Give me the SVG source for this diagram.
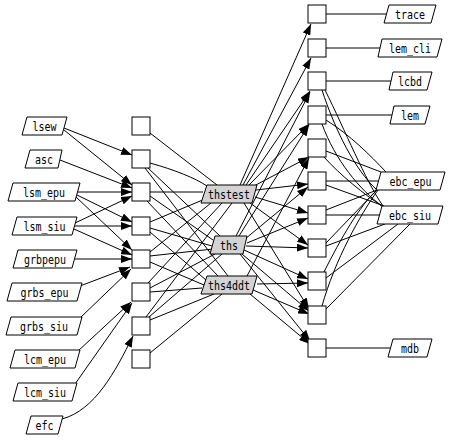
<svg xmlns="http://www.w3.org/2000/svg" width="450" height="440" viewBox="0 0 450 440">
<style>
rect{fill:#fff;stroke:#000;stroke-width:1}
polygon{fill:#fff;stroke:#000;stroke-width:1}
polygon.m{fill:#d3d3d3}
text{font-family:"DejaVu Sans Mono","Liberation Mono",monospace;font-size:12px;text-anchor:middle;fill:#000}
#edges path{fill:none;stroke:#000;stroke-width:1}
#edges path.a{marker-end:url(#ah)}
</style>
<defs>
<marker id="ah" markerWidth="11" markerHeight="8" refX="11" refY="4" orient="auto" markerUnits="userSpaceOnUse"><path d="M0,0 L11,4 L0,8 z" fill="#000"/></marker>
</defs>
<g id="edges">
<path class="a" d="M64,128 L132,155"/>
<path class="a" d="M64,130 L132,185"/>
<path class="a" d="M60,160 L132,188"/>
<path class="a" d="M78,192 L132,192"/>
<path class="a" d="M77,195 L132,222"/>
<path class="a" d="M76,197 L132,250"/>
<path class="a" d="M75,223 L132,196"/>
<path class="a" d="M75,226 L132,226"/>
<path class="a" d="M74,229 L132,255"/>
<path class="a" d="M75,259 L132,259"/>
<path class="a" d="M80,286 L130,267"/>
<path class="a" d="M80,318 L131,269"/>
<path class="a" d="M78,351 L131,302"/>
<path class="a" d="M75,384 L132,303"/>
<path class="a" d="M62,419 C95,410 115,372 133,336"/>
<path d="M150,133 L217,185"/>
<path d="M150,163 C175,170 195,178 207,186"/>
<path d="M148,168 L220,236"/>
<path d="M145,168 L228,276"/>
<path d="M150,192 L203,192"/>
<path d="M150,196 L213,240"/>
<path d="M147,201 L218,276"/>
<path d="M150,222 L205,199"/>
<path d="M150,228 L212,246"/>
<path d="M150,232 L206,280"/>
<path d="M150,252 L211,203"/>
<path d="M150,256 L213,249"/>
<path d="M150,262 L204,285"/>
<path d="M148,283 L222,203"/>
<path d="M150,288 L215,254"/>
<path d="M150,292 L202,288"/>
<path d="M146,317 L232,203"/>
<path d="M149,317 L222,254"/>
<path d="M150,320 L214,294"/>
<path d="M150,353 L222,294"/>
<path class="a" d="M240,185 L311,24"/>
<path class="a" d="M243,185 L311,58"/>
<path class="a" d="M246,185 L310,91"/>
<path class="a" d="M249,185 L309,124"/>
<path class="a" d="M252,187 L309,157"/>
<path class="a" d="M256,190 L308,184"/>
<path class="a" d="M255,197 L308,213"/>
<path class="a" d="M250,203 L308,245"/>
<path class="a" d="M244,203 L309,309"/>
<path class="a" d="M236,236 L310,92"/>
<path class="a" d="M239,236 L309,125"/>
<path class="a" d="M245,239 L308,187"/>
<path class="a" d="M247,243 L308,218"/>
<path class="a" d="M246,246 L308,248"/>
<path class="a" d="M244,250 L308,279"/>
<path class="a" d="M242,254 L309,311"/>
<path class="a" d="M240,254 L310,341"/>
<path class="a" d="M247,276 L309,158"/>
<path class="a" d="M257,284 L308,283"/>
<path class="a" d="M253,290 L309,314"/>
<path class="a" d="M250,294 L310,344"/>
<path d="M326,14 L387,14"/>
<path d="M326,48 L380,48"/>
<path d="M326,81 L391,81"/>
<path d="M326,115 L392,115"/>
<path d="M326,181 L379,181"/>
<path d="M326,215 L380,215"/>
<path d="M326,348 L390,348"/>
<path d="M322,90 C335,130 355,170 377,190"/>
<path d="M325,90 C345,130 365,180 383,206"/>
<path d="M326,120 C350,135 370,155 386,172"/>
<path d="M322,124 C335,160 360,190 382,206"/>
<path d="M326,151 L381,172"/>
<path d="M324,157 C340,175 365,195 382,206"/>
<path d="M326,185 L384,206"/>
<path d="M326,210 L377,190"/>
<path d="M326,243 L376,191"/>
<path d="M326,246 L385,224"/>
<path d="M324,272 C340,240 360,205 377,190"/>
<path d="M326,278 L398,224"/>
<path d="M322,306 C335,260 360,215 378,190"/>
<path d="M326,309 L410,224"/>
</g>
<g id="lsew"><polygon points="27,117 67,117 62,135 22,135"/><text x="44.5" y="131" textLength="24" lengthAdjust="spacingAndGlyphs">lsew</text></g>
<g id="asc"><polygon points="30,150 62,150 58,168 25,168"/><text x="44" y="164" textLength="18" lengthAdjust="spacingAndGlyphs">asc</text></g>
<g id="lsm_epu"><polygon points="13,183 80,183 75,201 8,201"/><text x="44" y="197" textLength="42" lengthAdjust="spacingAndGlyphs">lsm_epu</text></g>
<g id="lsm_siu"><polygon points="17,217 77,217 72,235 12,235"/><text x="44.5" y="231" textLength="42" lengthAdjust="spacingAndGlyphs">lsm_siu</text></g>
<g id="grbpepu"><polygon points="18,250 77,250 72,268 13,268"/><text x="45" y="264" textLength="42" lengthAdjust="spacingAndGlyphs">grbpepu</text></g>
<g id="grbs_epu"><polygon points="12,283 82,283 77,301 7,301"/><text x="44.5" y="297" textLength="48" lengthAdjust="spacingAndGlyphs">grbs_epu</text></g>
<g id="grbs_siu"><polygon points="11,317 82,317 77,335 6,335"/><text x="44" y="331" textLength="48" lengthAdjust="spacingAndGlyphs">grbs_siu</text></g>
<g id="lcm_epu"><polygon points="15,350 80,350 75,368 10,368"/><text x="45" y="364" textLength="42" lengthAdjust="spacingAndGlyphs">lcm_epu</text></g>
<g id="lcm_siu"><polygon points="18,383 77,383 72,401 13,401"/><text x="45" y="397" textLength="42" lengthAdjust="spacingAndGlyphs">lcm_siu</text></g>
<g id="efc"><polygon points="31,416 63,416 58,434 26,434"/><text x="44.5" y="430" textLength="18" lengthAdjust="spacingAndGlyphs">efc</text></g>
<g id="lb0"><rect x="132" y="117" width="18" height="18"/></g>
<g id="lb1"><rect x="132" y="150" width="18" height="18"/></g>
<g id="lb2"><rect x="132" y="183" width="18" height="18"/></g>
<g id="lb3"><rect x="132" y="217" width="18" height="18"/></g>
<g id="lb4"><rect x="132" y="250" width="18" height="18"/></g>
<g id="lb5"><rect x="132" y="283" width="18" height="18"/></g>
<g id="lb6"><rect x="132" y="317" width="18" height="18"/></g>
<g id="lb7"><rect x="132" y="350" width="18" height="18"/></g>
<g id="thstest"><polygon class="m" points="207,185 257,185 252,203 201,203"/><text x="229" y="199" textLength="42" lengthAdjust="spacingAndGlyphs">thstest</text></g>
<g id="ths"><polygon class="m" points="215,236 247,236 243,254 210,254"/><text x="229" y="250" textLength="18" lengthAdjust="spacingAndGlyphs">ths</text></g>
<g id="ths4ddt"><polygon class="m" points="207,276 257,276 252,294 201,294"/><text x="229" y="290" textLength="42" lengthAdjust="spacingAndGlyphs">ths4ddt</text></g>
<g id="rb0"><rect x="308" y="5" width="18" height="18"/></g>
<g id="rb1"><rect x="308" y="39" width="18" height="18"/></g>
<g id="rb2"><rect x="308" y="72" width="18" height="18"/></g>
<g id="rb3"><rect x="308" y="106" width="18" height="18"/></g>
<g id="rb4"><rect x="308" y="139" width="18" height="18"/></g>
<g id="rb5"><rect x="308" y="172" width="18" height="18"/></g>
<g id="rb6"><rect x="308" y="206" width="18" height="18"/></g>
<g id="rb7"><rect x="308" y="239" width="18" height="18"/></g>
<g id="rb8"><rect x="308" y="272" width="18" height="18"/></g>
<g id="rb9"><rect x="308" y="306" width="18" height="18"/></g>
<g id="rb10"><rect x="308" y="339" width="18" height="18"/></g>
<g id="trace"><polygon points="389,5 436,5 431,23 384,23"/><text x="410" y="19" textLength="30" lengthAdjust="spacingAndGlyphs">trace</text></g>
<g id="lem_cli"><polygon points="382,39 442,39 437,57 378,57"/><text x="410" y="53" textLength="42" lengthAdjust="spacingAndGlyphs">lem_cli</text></g>
<g id="lcbd"><polygon points="393,72 432,72 427,90 389,90"/><text x="410" y="86" textLength="24" lengthAdjust="spacingAndGlyphs">lcbd</text></g>
<g id="lem"><polygon points="394,106 430,106 425,124 390,124"/><text x="410" y="120" textLength="18" lengthAdjust="spacingAndGlyphs">lem</text></g>
<g id="ebc_epu"><polygon points="381,172 445,172 440,190 376,190"/><text x="410.5" y="186" textLength="42" lengthAdjust="spacingAndGlyphs">ebc_epu</text></g>
<g id="ebc_siu"><polygon points="382,206 443,206 438,224 377,224"/><text x="410" y="220" textLength="42" lengthAdjust="spacingAndGlyphs">ebc_siu</text></g>
<g id="mdb"><polygon points="393,339 432,339 427,357 388,357"/><text x="410" y="353" textLength="18" lengthAdjust="spacingAndGlyphs">mdb</text></g>
</svg>
